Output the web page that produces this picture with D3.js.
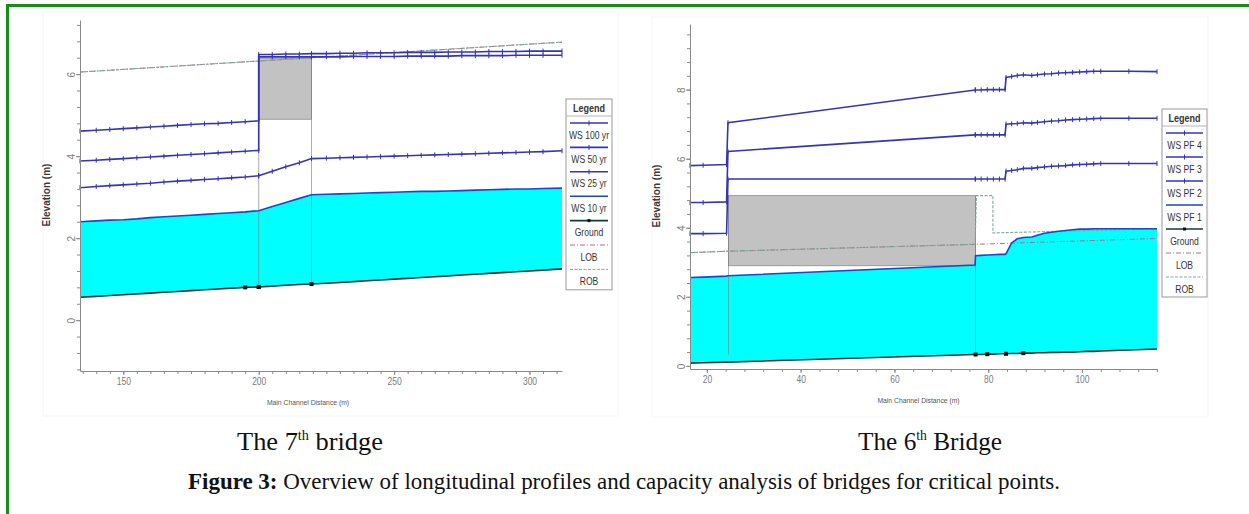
<!DOCTYPE html>
<html>
<head>
<meta charset="utf-8">
<script src="https://cdn.jsdelivr.net/npm/d3@7"></script>
<style>
  body { margin: 0; background: #fff; }
  svg { display: block; }
  .axis .domain, .axis line { stroke: #8a8a8a; }
  .axis text { font-family: "Liberation Sans", Arial, sans-serif; font-size: 10px; fill: #7a7a7a; }
  .legend text { font-family: "Liberation Sans", Arial, sans-serif; font-size: 11px; fill: #333; }
</style>
</head>
<body>
<svg width="1249" height="514"></svg>
<script>
// ---------- DATA: 7th bridge (left) ----------
const stations7 = [134, 140, 145, 150, 155, 160, 165, 170, 175, 180, 185, 190, 195, 200, 200, 205, 210, 215, 219.5,
  225, 230, 235, 240, 245, 250, 255, 260, 265, 270, 275, 280, 285, 290, 295, 300, 305, 312];
const ground7 = [0.56, 0.58, 0.60, 0.62, 0.64, 0.66, 0.68, 0.70, 0.72, 0.74, 0.76, 0.78, 0.80, 0.81, 0.81, 0.83, 0.85, 0.87, 0.88,
  0.90, 0.92, 0.94, 0.96, 0.98, 1.00, 1.02, 1.04, 1.06, 1.08, 1.10, 1.12, 1.14, 1.16, 1.18, 1.20, 1.22, 1.25];
const ws10yr = [2.40, 2.42, 2.44, 2.45, 2.47, 2.50, 2.52, 2.54, 2.56, 2.58, 2.60, 2.62, 2.64, 2.67, 2.67, 2.77, 2.87, 2.97, 3.06,
  3.07, 3.08, 3.09, 3.10, 3.11, 3.12, 3.13, 3.14, 3.14, 3.15, 3.16, 3.17, 3.18, 3.19, 3.20, 3.20, 3.21, 3.22];
const ws25yr = [3.23, 3.26, 3.28, 3.30, 3.32, 3.34, 3.37, 3.39, 3.41, 3.43, 3.45, 3.47, 3.49, 3.52, 3.52, 3.63, 3.74, 3.84, 3.94,
  3.95, 3.96, 3.97, 3.98, 3.99, 4.00, 4.01, 4.02, 4.03, 4.04, 4.05, 4.06, 4.07, 4.08, 4.09, 4.10, 4.11, 4.13];
const ws50yr = [3.88, 3.90, 3.92, 3.94, 3.96, 3.98, 4.00, 4.02, 4.04, 4.06, 4.08, 4.10, 4.12, 4.14, 6.42, 6.42, 6.42, 6.42, 6.42,
  6.42, 6.42, 6.43, 6.43, 6.43, 6.43, 6.44, 6.44, 6.44, 6.44, 6.45, 6.45, 6.45, 6.45, 6.46, 6.46, 6.46, 6.46];
const ws100yr = [4.61, 4.63, 4.65, 4.67, 4.69, 4.71, 4.73, 4.75, 4.77, 4.79, 4.80, 4.82, 4.84, 4.86, 6.48, 6.48, 6.49, 6.49, 6.50,
  6.50, 6.51, 6.51, 6.52, 6.52, 6.52, 6.53, 6.53, 6.53, 6.54, 6.54, 6.54, 6.55, 6.55, 6.55, 6.56, 6.56, 6.56];
const bankX7 = [134, 200, 312];
const lob7 = [6.05, 6.32, 6.78];
const rob7 = [6.05, 6.32, 6.78];
const deck7 = [200, 219.5, 4.90, 6.39]; // from, to, low chord, high chord
const xTicks7 = [150, 200, 250, 300];
const yTicks7 = [0, 2, 4, 6];
const legend7 = ['WS 100 yr', 'WS 50 yr', 'WS 25 yr', 'WS 10 yr', 'Ground', 'LOB', 'ROB'];

// ---------- DATA: 6th bridge (right) ----------
const stations6 = [16.4, 19.2, 24.2, 24.5, 77.2, 77.3, 78.5, 79.8, 81.1, 82.4, 83.6, 83.8, 85, 86.2, 87.5, 89.3,
  90.5, 92, 93.5, 95, 96.5, 98, 99.5, 101, 102.5, 104, 110, 116];
const ground6 = [0.08, 0.09, 0.11, 0.11, 0.33, 0.33, 0.33, 0.34, 0.34, 0.35, 0.35, 0.35, 0.36, 0.36, 0.37, 0.37,
  0.38, 0.38, 0.39, 0.39, 0.40, 0.40, 0.41, 0.42, 0.42, 0.43, 0.46, 0.49];
const wsPF1 = [2.56, 2.57, 2.60, 2.61, 2.92, 3.19, 3.20, 3.21, 3.22, 3.23, 3.23, 3.25, 3.56, 3.68, 3.72, 3.73,
  3.78, 3.84, 3.87, 3.90, 3.92, 3.94, 3.96, 3.96, 3.97, 3.97, 3.97, 3.97];
const wsPF2 = [3.83, 3.83, 3.84, 5.41, 5.41, 5.41, 5.41, 5.41, 5.41, 5.41, 5.41, 5.64, 5.66, 5.68, 5.72, 5.72,
  5.74, 5.76, 5.78, 5.79, 5.80, 5.82, 5.83, 5.84, 5.85, 5.86, 5.86, 5.86];
const wsPF3 = [4.73, 4.73, 4.75, 6.21, 6.69, 6.69, 6.69, 6.69, 6.69, 6.69, 6.69, 7.00, 7.01, 7.02, 7.04, 7.03,
  7.05, 7.07, 7.09, 7.10, 7.12, 7.13, 7.14, 7.15, 7.16, 7.17, 7.17, 7.17];
const wsPF4 = [5.80, 5.81, 5.83, 7.04, 7.99, 7.99, 7.99, 8.00, 8.00, 8.00, 8.00, 8.35, 8.38, 8.41, 8.43, 8.41,
  8.43, 8.45, 8.46, 8.48, 8.49, 8.50, 8.51, 8.52, 8.53, 8.53, 8.53, 8.52];
const lobX6 = [16.4, 24.5, 77.2, 116];
const lob6 = [3.28, 3.32, 3.52, 3.69];
const robX6 = [16.4, 24.5, 77.2, 77.5, 81, 81, 116];
const rob6 = [3.28, 3.32, 3.52, 4.93, 4.93, 3.85, 3.97];
const deck6 = [24.6, 77.3, 2.90, 4.93];
const xTicks6 = [20, 40, 60, 80, 100];
const yTicks6 = [0, 2, 4, 6, 8];
const legend6 = ['WS PF 4', 'WS PF 3', 'WS PF 2', 'WS PF 1', 'Ground', 'LOB', 'ROB'];

// ---------- STYLE ----------
const wsBlue = '#3434b4';
const waterTop = '#1f45c8';
const groundCol = '#173838';
const waterFill = '#00ffff';
const lobCol = '#b06a90';
const robCol = '#7fa89c';
const border = '#1b8c1b';

const svg = d3.select('svg');

// green frame (top and left)
svg.append('line').attr('x1', 6).attr('x2', 1249).attr('y1', 5.5).attr('y2', 5.5)
  .attr('stroke', border).attr('stroke-width', 3);
svg.append('line').attr('x1', 7.5).attr('x2', 7.5).attr('y1', 4).attr('y2', 514)
  .attr('stroke', border).attr('stroke-width', 3);

function drawProfile(cfg) {
  const g = svg.append('g');
  const x = d3.scaleLinear().domain(cfg.xDomain).range(cfg.xRange);
  const y = d3.scaleLinear().domain(cfg.yDomain).range(cfg.yRange);

  // faint panel frame
  g.append('rect').attr('x', cfg.panel[0]).attr('y', cfg.panel[1])
    .attr('width', cfg.panel[2]).attr('height', cfg.panel[3])
    .attr('fill', 'none').attr('stroke', '#f5f5f5');

  const rows = cfg.stations.map((s, i) => ({s, i}));

  // water between ground and lowest profile
  g.append('path').datum(rows)
    .attr('d', d3.area().x(d => x(d.s)).y0(d => y(cfg.ground[d.i])).y1(d => y(cfg.water[d.i])))
    .attr('fill', waterFill);

  // bridge deck
  const [d0, d1, lo, hi] = cfg.deck;
  g.append('rect').attr('x', x(d0)).attr('y', y(hi))
    .attr('width', x(d1) - x(d0)).attr('height', y(lo) - y(hi))
    .attr('fill', '#c2c2c2').attr('stroke', '#8c8c8c').attr('stroke-width', 0.8);
  [d0, d1].forEach(v => {
    g.append('line').attr('x1', x(v)).attr('x2', x(v))
      .attr('y1', y(hi)).attr('y2', y(cfg.groundAt(v)))
      .attr('stroke', '#7d7d7d').attr('stroke-width', 0.8).attr('opacity', 0.8);
  });

  // bank stations (ROB drawn over LOB)
  const bank = (xs, ys) => d3.line().x((d, i) => x(xs[i])).y((d, i) => y(ys[i]))(xs);
  g.append('path').attr('d', bank(cfg.lobX, cfg.lob)).attr('fill', 'none')
    .attr('stroke', lobCol).attr('stroke-width', 1).attr('stroke-dasharray', '5,2,1,2');
  g.append('path').attr('d', bank(cfg.robX, cfg.rob)).attr('fill', 'none')
    .attr('stroke', robCol).attr('stroke-width', 1.1).attr('stroke-dasharray', '3,1.5');

  const line = vals => d3.line().x(d => x(d.s)).y(d => y(vals[d.i]))(rows);

  // water surfaces with cross-section ticks
  cfg.ws.forEach(vals => {
    g.append('path').attr('d', line(vals)).attr('fill', 'none')
      .attr('stroke', wsBlue).attr('stroke-width', 1.6);
    g.append('g').selectAll('line').data(rows).join('line')
      .attr('x1', d => x(d.s)).attr('x2', d => x(d.s))
      .attr('y1', d => y(vals[d.i]) - 2.5).attr('y2', d => y(vals[d.i]) + 2.5)
      .attr('stroke', wsBlue).attr('stroke-width', 1);
  });
  g.append('path').attr('d', line(cfg.water)).attr('fill', 'none')
    .attr('stroke', waterTop).attr('stroke-width', 1.6);

  // ground
  g.append('path').attr('d', line(cfg.ground)).attr('fill', 'none')
    .attr('stroke', groundCol).attr('stroke-width', 1.6);
  g.append('g').selectAll('rect').data(rows.filter(d => d.s === d0 || d.s === d1 || cfg.groundMarks.includes(d.s)))
    .join('rect')
    .attr('x', d => x(d.s) - 2).attr('y', d => y(cfg.ground[d.i]) - 2)
    .attr('width', 4).attr('height', 4).attr('fill', '#111');

  // axes
  const xb = cfg.yRange[0], xl = cfg.xRange[0];
  g.append('g').attr('class', 'axis').attr('transform', `translate(0,${xb})`)
    .call(d3.axisBottom(x).tickValues(cfg.xMinor).tickSize(3).tickFormat('').tickSizeOuter(0));
  g.append('g').attr('class', 'axis').attr('transform', `translate(0,${xb})`)
    .call(d3.axisBottom(x).tickValues(cfg.xTicks).tickSize(4).tickPadding(3).tickSizeOuter(0))
    .call(a => a.select('.domain').remove())
    .call(a => a.selectAll('text').attr('transform', 'scale(0.85,1)'));
  g.append('g').attr('class', 'axis').attr('transform', `translate(${xl},0)`)
    .call(d3.axisLeft(y).tickValues(cfg.yMinor).tickSize(3).tickFormat('').tickSizeOuter(0));
  g.append('g').attr('class', 'axis').attr('transform', `translate(${xl},0)`)
    .call(d3.axisLeft(y).tickValues(cfg.yTicks).tickSize(4).tickSizeOuter(0))
    .call(a => a.select('.domain').remove())
    .call(a => a.selectAll('text')
      .attr('transform', 'rotate(-90)').attr('x', 0).attr('y', -5).attr('dy', 0)
      .attr('text-anchor', 'middle'));

  // axis titles
  g.append('text').attr('transform', `translate(${(cfg.xRange[0] + cfg.xRange[1]) / 2 + cfg.xTitleShift},${xb + 34}) scale(0.85,1)`)
    .attr('text-anchor', 'middle')
    .style('font', '8px "Liberation Sans", Arial, sans-serif').style('fill', '#555')
    .text('Main Channel Distance (m)');
  g.append('text').attr('transform', `translate(${cfg.yTitleX},${cfg.yTitleY}) rotate(-90)`)
    .attr('text-anchor', 'middle')
    .style('font', 'bold 10px "Liberation Sans", Arial, sans-serif').style('fill', '#3a3a3a')
    .text('Elevation (m)');

  // legend
  const lg = g.append('g').attr('class', 'legend').attr('transform', `translate(${cfg.legend[0]},${cfg.legend[1]})`);
  const lw = cfg.legend[2];
  const rowH = cfg.legend[3];
  lg.append('rect').attr('width', lw).attr('height', 20 + rowH * cfg.legendNames.length)
    .attr('fill', '#fff').attr('stroke', '#9a9a9a');
  lg.append('line').attr('x1', 0).attr('x2', lw).attr('y1', 17).attr('y2', 17).attr('stroke', '#b5b5b5');
  lg.append('text').attr('transform', `translate(${lw / 2},12.5) scale(0.82,1)`).attr('text-anchor', 'middle')
    .style('font-weight', 'bold').style('font-size', '11px').text('Legend');
  const kinds = ['ws', 'ws', 'ws', 'plain', 'ground', 'lob', 'rob'];
  cfg.legendNames.forEach((name, i) => {
    const ly = 24 + i * rowH;
    const k = kinds[i];
    const stroke = k === 'ws' ? wsBlue : k === 'plain' ? waterTop : k === 'ground' ? groundCol : k === 'lob' ? lobCol : robCol;
    lg.append('line').attr('x1', 4).attr('x2', lw - 4).attr('y1', ly).attr('y2', ly)
      .attr('stroke', stroke).attr('stroke-width', (k === 'lob' || k === 'rob') ? 1 : 1.6)
      .attr('stroke-dasharray', k === 'lob' ? '5,2,1,2' : k === 'rob' ? '3,1.5' : null);
    if (k === 'ws') {
      lg.append('line').attr('x1', lw / 2).attr('x2', lw / 2).attr('y1', ly - 2.5).attr('y2', ly + 2.5)
        .attr('stroke', stroke);
    }
    if (k === 'ground') {
      lg.append('rect').attr('x', lw / 2 - 1.5).attr('y', ly - 1.5).attr('width', 3).attr('height', 3).attr('fill', '#111');
    }
    lg.append('text').attr('transform', `translate(${lw / 2},${ly + 15.5}) scale(0.78,1)`)
      .attr('text-anchor', 'middle').text(name);
  });
}

drawProfile({
  xDomain: [134, 312], xRange: [80, 562],
  yDomain: [-1.24, 7.32], yRange: [371, 20],
  panel: [43, 12, 575, 404],
  stations: stations7, ground: ground7, water: ws10yr,
  ws: [ws100yr, ws50yr, ws25yr],
  groundAt: v => ground7[stations7.indexOf(v)],
  groundMarks: [195],
  lobX: bankX7, lob: lob7, robX: bankX7, rob: rob7,
  deck: deck7,
  xTicks: xTicks7, xMinor: d3.range(135, 312, 5),
  yTicks: yTicks7, yMinor: d3.range(-1.2, 7.4, 0.4).map(v => +v.toFixed(1)),
  xTitleShift: -13, yTitleX: 50, yTitleY: 195,
  legend: [566, 99, 46, 24.4], legendNames: legend7
});

drawProfile({
  xDomain: [16.4, 116], xRange: [690, 1157],
  yDomain: [-0.09, 9.9], yRange: [369, 24],
  panel: [652, 17, 556, 400],
  stations: stations6, ground: ground6, water: wsPF1,
  ws: [wsPF4, wsPF3, wsPF2],
  groundAt: v => ground6[d3.bisectLeft(stations6, v)],
  groundMarks: [77.3, 79.8, 83.8, 87.5],
  lobX: lobX6, lob: lob6, robX: robX6, rob: rob6,
  deck: deck6,
  xTicks: xTicks6, xMinor: d3.range(20, 117, 4),
  yTicks: yTicks6, yMinor: d3.range(0, 10, 0.4).map(v => +v.toFixed(1)),
  xTitleShift: -5, yTitleX: 660, yTitleY: 196,
  legend: [1162, 109, 45, 24], legendNames: legend6
});

// ---------- captions ----------
const capFont = '"Liberation Serif", "DejaVu Serif", serif';
function caption(cx, cy, width, ord, word) {
  const t = svg.append('text').attr('x', cx - width / 2).attr('y', cy)
    .attr('textLength', width).attr('lengthAdjust', 'spacingAndGlyphs')
    .style('font-family', capFont).style('font-size', '26px').style('fill', '#111');
  t.append('tspan').text('The ' + ord.n);
  t.append('tspan').attr('dy', -10).style('font-size', '14px').text(ord.sup);
  t.append('tspan').attr('dy', 10).text(' ' + word);
}
caption(310, 450, 146, {n: '7', sup: 'th'}, 'bridge');
caption(930, 450, 144, {n: '6', sup: 'th'}, 'Bridge');

const fig = svg.append('text').attr('x', 188).attr('y', 489)
  .attr('textLength', 872).attr('lengthAdjust', 'spacingAndGlyphs')
  .style('font-family', capFont).style('font-size', '24px').style('fill', '#111');
fig.append('tspan').style('font-weight', 'bold').text('Figure 3:');
fig.append('tspan').text(' Overview of longitudinal profiles and capacity analysis of bridges for critical points.');
</script>
</body>
</html>
